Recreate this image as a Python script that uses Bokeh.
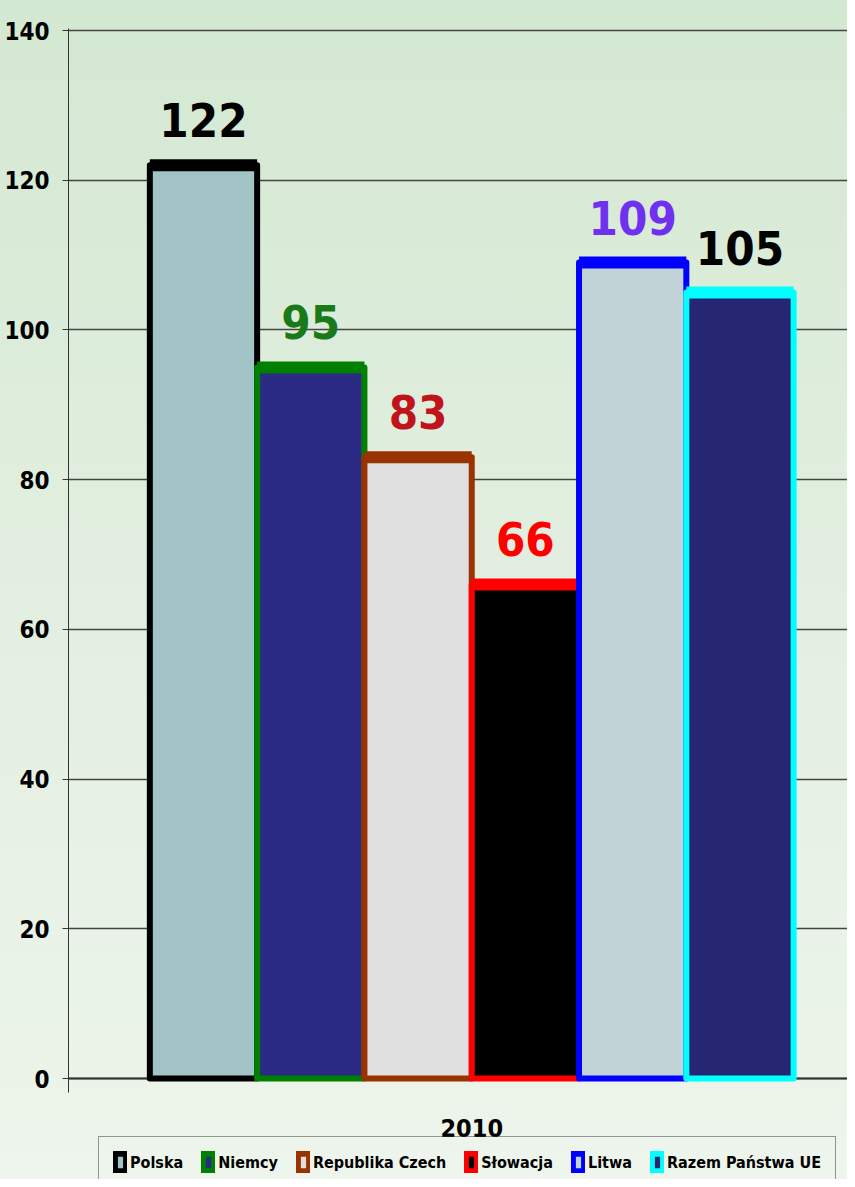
from bokeh.plotting import figure
from bokeh.models import (ColumnDataSource, Legend, LegendItem, Label, LabelSet,
                          Span, FixedTicker, Range1d)
from bokeh.core.properties import value
from bokeh.embed import file_html
from bokeh.resources import INLINE

# ---- data ----
countries = ["Polska", "Niemcy", "Republika Czech", "Słowacja", "Litwa", "Razem Państwa UE"]
values = [122, 95, 83, 66, 109, 105]
fill_colors = ["#a3c4c6", "#2b2b85", "#e0e0e0", "#000000", "#c2d3d8", "#262673"]
line_colors = ["#000000", "#008000", "#993300", "#ff0000", "#0000ff", "#00ffff"]
label_colors = ["#000000", "#1a7a1a", "#c0141a", "#ff0000", "#7030f0", "#000000"]
category_label = "2010"
y_ticks = [0, 20, 40, 60, 80, 100, 120, 140]

FONT = "'DejaVu Sans Condensed', 'DejaVu Sans', sans-serif"

xs = list(range(len(countries)))
BAR_W = 1.0

p = figure(width=847, height=1179,
           x_range=Range1d(-1.258, 6.002), y_range=Range1d(-13.49, 140.27),
           output_backend="svg", toolbar_location=None,
           min_border_left=68, min_border_right=0,
           min_border_top=28, min_border_bottom=0)
p.styles = {"background": "linear-gradient(180deg, #d3e8d1 0%, #e0eede 40%, #eef5ec 100%)"}
p.background_fill_color = None
p.border_fill_color = None
p.outline_line_color = None

p.xaxis.visible = False
p.xgrid.visible = False
p.ygrid.grid_line_color = "#444444"
p.ygrid.grid_line_width = 1.3

p.yaxis.ticker = FixedTicker(ticks=y_ticks)
p.yaxis.bounds = (-1.9, 140.27)
p.yaxis.axis_line_color = "#333333"
p.yaxis.axis_line_width = 1
p.yaxis.major_tick_out = 6
p.yaxis.major_tick_in = 0
p.yaxis.major_tick_line_color = "#333333"
p.yaxis.minor_tick_line_color = None
p.yaxis.major_label_standoff = 13
p.yaxis.major_label_text_font = FONT
p.yaxis.major_label_text_font_size = "24px"
p.yaxis.major_label_text_font_style = "bold"
p.yaxis.major_label_text_color = "#000000"

p.add_layout(Span(location=0, dimension="width", line_color="#333333",
                  line_width=2, level="underlay"))

items = []
for i in xs:
    left = xs[i] - BAR_W / 2
    right = xs[i] + BAR_W / 2
    r = p.vbar(x=[xs[i]], top=[values[i]], bottom=0, width=BAR_W,
               fill_color=fill_colors[i], line_color=line_colors[i],
               line_width=6, line_join="round")
    p.segment(x0=[left], x1=[right], y0=[values[i]], y1=[values[i]],
              line_color=line_colors[i], line_width=12, line_cap="butt")
    items.append(LegendItem(label=countries[i], renderers=[r]))

src = ColumnDataSource(dict(x=xs, y=values, text=[str(v) for v in values], c=label_colors))
p.add_layout(LabelSet(x="x", y="y", text="text", source=src, y_offset=28,
                      text_align="center", text_baseline="alphabetic",
                      text_color="c", text_font=value(FONT),
                      text_font_size=value("47px"), text_font_style=value("bold")))

p.add_layout(Label(x=2.5, y=0, y_offset=-40, text=category_label,
                   text_align="center", text_baseline="top",
                   text_font=FONT, text_font_size="25px", text_font_style="bold",
                   text_color="#000000"))

legend = Legend(items=items, orientation="horizontal", location=(30, -9),
                glyph_width=14, glyph_height=22, label_standoff=3, spacing=18,
                padding=14, label_text_font=FONT, label_text_font_size="16px",
                label_text_font_style="bold", label_text_color="#000000",
                border_line_color="#333333", border_line_width=1,
                background_fill_alpha=0)
p.add_layout(legend)

open("out.html", "w").write(file_html(p, INLINE))
